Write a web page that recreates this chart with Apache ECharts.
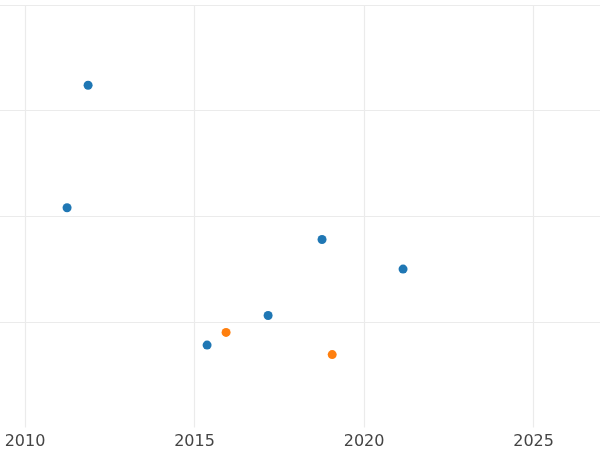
<!DOCTYPE html>
<html>
<head>
<meta charset="utf-8">
<script src="https://cdn.jsdelivr.net/npm/echarts@6/dist/echarts.min.js"></script>
<style>
  html, body { margin: 0; padding: 0; background: #fff; }
  #chart { width: 600px; height: 450px; }
</style>
</head>
<body>
<div id="chart"></div>
<script>
// points: [year, value]
const blueSeries = [
  [2011.86, 3.24],
  [2011.24, 2.08],
  [2018.76, 1.78],
  [2021.15, 1.50],
  [2017.17, 1.06],
  [2015.37, 0.78]
];
const orangeSeries = [
  [2015.93, 0.90],
  [2019.06, 0.69]
];
const xTicks = [2010, 2015, 2020, 2025];

const chart = echarts.init(document.getElementById("chart"));

const gridColor = "#ebebeb";

const option = {
  animation: false,
  // the plot is wider than the canvas: 2005 sits off to the left
  grid: { left: -144.5, right: -1.4, top: 5, bottom: 22.5, outerBoundsMode: "none", containLabel: false },
  xAxis: {
    type: "value",
    min: 2005,
    max: 2027,
    interval: 5,
    axisLine: { show: false },
    axisTick: { show: false },
    splitLine: { show: true, lineStyle: { color: gridColor, width: 1.2 } },
    axisLabel: {
      show: true,
      margin: 6,
      fontFamily: "DejaVu Sans",
      fontSize: 16,
      color: "#444",
      showMinLabel: false,
      showMaxLabel: false,
      formatter: (v) => (xTicks.includes(v) ? String(v) : "")
    }
  },
  yAxis: {
    type: "value",
    min: 0,
    max: 4,
    interval: 1,
    axisLine: { show: false },
    axisTick: { show: false },
    axisLabel: { show: false },
    splitLine: {
      show: true,
      // first line (bottom) is not drawn in the reference
      lineStyle: { color: ["rgba(0,0,0,0)", gridColor, gridColor, gridColor, gridColor], width: 1.2 }
    }
  },
  series: [
    {
      name: "blue",
      type: "scatter",
      data: blueSeries,
      symbolSize: 9,
      itemStyle: { color: "#1f77b4", opacity: 1 }
    },
    {
      name: "orange",
      type: "scatter",
      data: orangeSeries,
      symbolSize: 9,
      itemStyle: { color: "#ff7f0e", opacity: 1 }
    }
  ]
};

chart.setOption(option);
window.addEventListener("resize", () => chart.resize());
</script>
</body>
</html>
